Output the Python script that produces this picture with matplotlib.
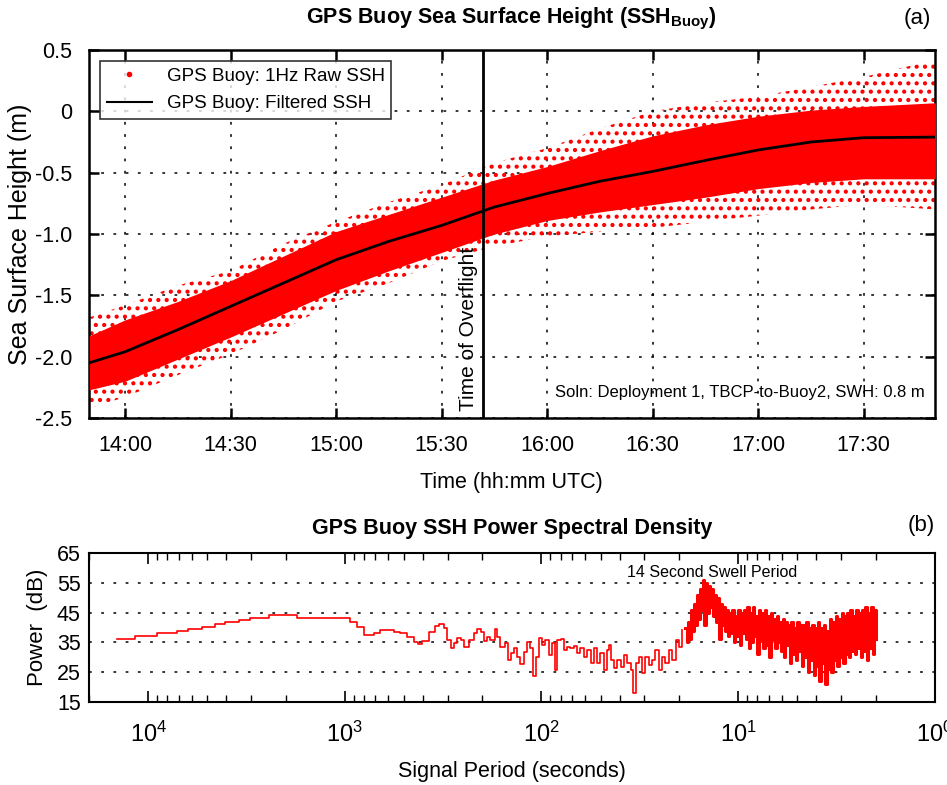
import numpy as np
import matplotlib
matplotlib.use("Agg")
import matplotlib.pyplot as plt
from matplotlib.lines import Line2D
from matplotlib.ticker import LogLocator, NullFormatter

plt.rcParams['font.family'] = ['Liberation Sans', 'DejaVu Sans']
plt.rcParams['mathtext.fontset'] = 'custom'
plt.rcParams['mathtext.rm'] = 'Liberation Sans'
plt.rcParams['mathtext.bf'] = 'Liberation Sans:bold'
plt.rcParams['hatch.linewidth'] = 1.8

# ---- panel (a): sea surface height, time in decimal hours UTC ----
t_hours = [13.83, 14.0, 14.25, 14.5, 14.75, 15.0, 15.25, 15.5, 15.75,
           16.0, 16.25, 16.5, 16.75, 17.0, 17.25, 17.5, 17.84]
ssh_filtered = [-2.05, -1.96, -1.78, -1.59, -1.40, -1.21, -1.06, -0.93, -0.78,
                -0.67, -0.57, -0.49, -0.40, -0.315, -0.25, -0.215, -0.21]
# dense core of the 1 Hz raw points
raw_core_lo = [-2.27, -2.20, -2.02, -1.84, -1.65, -1.46, -1.30, -1.15, -1.00,
               -0.89, -0.82, -0.76, -0.70, -0.63, -0.58, -0.55, -0.55]
raw_core_hi = [-1.83, -1.70, -1.55, -1.38, -1.18, -0.98, -0.84, -0.70, -0.56,
               -0.45, -0.32, -0.20, -0.11, -0.04, 0.01, 0.04, 0.07]
# sparse outer scatter of the raw points
raw_outer_lo = [-2.42, -2.33, -2.15, -1.98, -1.78, -1.55, -1.40, -1.22, -1.10,
                -1.02, -0.98, -0.95, -0.90, -0.85, -0.80, -0.76, -0.80]
raw_outer_hi = [-1.68, -1.58, -1.42, -1.30, -1.08, -0.90, -0.74, -0.60, -0.42,
                -0.30, -0.14, 0.00, 0.07, 0.12, 0.20, 0.28, 0.42]
overflight = 15.694
time_ticks = [14.0, 14.5, 15.0, 15.5, 16.0, 16.5, 17.0, 17.5]
time_labels = ['14:00', '14:30', '15:00', '15:30', '16:00', '16:30', '17:00', '17:30']

# ---- panel (b): PSD, signal period (s) vs power (dB) ----
psd_period = [14420, 11640, 9030, 7150, 6240, 5330, 4560, 4060, 3470, 3030,
              2440, 1750, 1054, 938, 867, 802, 757, 713, 659, 611, 565, 522,
              483, 447, 426, 405, 374, 346, 330, 314, 302, 290, 279, 268, 258,
              247, 234, 221, 212, 204, 197, 189, 182, 173, 168, 162, 154, 148,
              143, 138, 133, 128, 123, 118, 114, 110, 107, 103, 99.3, 95.5,
              91.8, 88.3, 85.5, 83.2, 80.0, 76.9, 74.0, 71.2, 68.4, 65.8, 63.3,
              60.8, 58.5, 56.3, 54.1, 52.1, 50.1, 48.2, 46.3, 45.4, 44.5, 42.8,
              41.2, 39.6, 38.1, 36.6, 35.2, 34.1, 33.2, 31.9, 30.7, 29.6, 28.4,
              27.3, 26.3, 25.3, 24.3, 23.4, 22.5, 21.6, 20.8, 20.0, 19.2]
psd_db = [36.3, 37.2, 38.0, 38.9, 39.6, 40.3, 41.1, 41.8, 42.4, 43.1,
          44.1, 43.3, 43.3, 42.0, 40.3, 37.5, 37.5, 38.3, 39.2, 39.2, 38.6, 38.3,
          36.9, 35.0, 34.5, 35.6, 38.6, 40.6, 41.2, 39.7, 35.8, 33.0, 34.7, 36.4, 35.8,
          33.6, 35.8, 38.0, 39.4, 38.6, 35.6, 36.9, 35.8, 39.4, 36.9, 33.6, 34.7, 29.1,
          31.3, 33.0, 30.2, 27.8, 31.9, 35.2, 33.0, 23.7, 30.2, 36.4, 34.1, 35.8,
          30.8, 34.7, 25.7, 35.8, 36.0, 32.4, 33.6, 33.0, 33.8, 31.3, 33.0,
          30.2, 32.4, 28.0, 33.0, 28.0, 31.3, 25.7, 32.4, 34.1, 29.1, 26.3,
          29.1, 26.9, 30.8, 28.0, 25.7, 17.9, 28.0, 30.2, 24.6, 30.2, 27.4,
          29.1, 32.4, 25.7, 30.2, 28.0, 32.4, 29.1, 35.8, 33.6, 39.2]
# swell band and short periods: densely oscillating spectrum, 18.6 s down to 2 s
psd_dense_db = [40, 35, 42, 36, 46, 39, 48, 41, 51, 43,
                53, 46, 56, 41, 55, 45, 54, 47, 53, 44,
                51, 42, 50, 36, 48, 41, 47, 39, 46, 37,
                45, 38, 46, 35, 44, 37, 46, 34, 45, 38,
                46, 36, 47, 33, 45, 35, 47, 37, 44, 31,
                46, 36, 45, 33, 46, 34, 44, 30, 45, 36,
                43, 33, 44, 35, 42, 32, 43, 30, 42, 34,
                41, 28, 42, 31, 40, 29, 42, 32, 41, 27,
                41, 30, 42, 25, 40, 29, 41, 24, 40, 27,
                42, 22, 40, 28, 41, 21, 39, 26, 43, 25,
                42, 29, 44, 27, 43, 30, 45, 28, 44, 31,
                45, 30, 46, 32, 44, 31, 46, 33, 45, 30,
                46, 32, 47, 29, 45, 33, 47, 31, 46, 36]
psd_dense_period = np.geomspace(18.6, 2.0, len(psd_dense_db))

fig = plt.figure(figsize=(9.47, 7.85), dpi=100)
ax1 = fig.add_axes([0.094, 0.4675, 0.893, 0.4688])
ax2 = fig.add_axes([0.094, 0.1057, 0.893, 0.1898])

grid_style = dict(color='black', linestyle=(0, (1.8, 6.2)), linewidth=1.1)

# panel (a)
ax1.fill_between(t_hours, raw_outer_lo, raw_outer_hi, facecolor='none',
                 edgecolor='red', hatch='..', linewidth=0, zorder=2)
ax1.fill_between(t_hours, raw_core_lo, raw_core_hi, color='red', linewidth=0, zorder=3)
ax1.plot(t_hours, ssh_filtered, color='black', linewidth=2, zorder=4)
ax1.axvline(overflight, color='black', linewidth=2, zorder=5)
ax1.set_xlim(13.829, 17.8365)
ax1.set_ylim(-2.5, 0.5)
ax1.set_xticks(time_ticks)
ax1.set_xticklabels(time_labels)
ax1.set_yticks([-2.5, -2.0, -1.5, -1.0, -0.5, 0, 0.5])
ax1.set_yticklabels(['-2.5', '-2.0', '-1.5', '-1.0', '-0.5', '0', '0.5'])
ax1.grid(True, **grid_style)
ax1.set_axisbelow(True)
ax1.tick_params(direction='in', length=7, width=1.8, top=True, right=True,
                labelsize=15.5, pad=12)
for s in ax1.spines.values():
    s.set_linewidth(1.8)
ax1.set_xlabel('Time (hh:mm UTC)', fontsize=15.5, labelpad=12)
ax1.set_ylabel('Sea Surface Height (m)', fontsize=18, labelpad=2)
ax1.set_title(r'GPS Buoy Sea Surface Height (SSH$_{\mathbf{Buoy}}$)',
              fontsize=15.5, fontweight='bold', pad=19)
fig.text(0.983, 0.977, '(a)', fontsize=16, ha='right', va='center')

handles = [Line2D([], [], color='red', marker='.', linestyle='none', markersize=6),
           Line2D([], [], color='black', linewidth=1.5)]
leg = ax1.legend(handles, ['GPS Buoy: 1Hz Raw SSH', 'GPS Buoy: Filtered SSH'],
                 loc='upper left', fontsize=13.5, frameon=True, fancybox=False,
                 edgecolor='black', borderpad=0.35, labelspacing=0.55,
                 handlelength=2.4, handletextpad=0.8, borderaxespad=0.6)
leg.get_frame().set_linewidth(1.2)
leg.set_zorder(10)

ax1.annotate('Time of Overflight', xy=(overflight, -2.5), xytext=(-3, 5),
             textcoords='offset points', rotation=90, ha='right', va='bottom',
             fontsize=15)
ax1.text(0.988, 0.068, 'Soln: Deployment 1, TBCP-to-Buoy2, SWH: 0.8 m',
         transform=ax1.transAxes, ha='right', va='center', fontsize=12)

# panel (b)
ax2.plot(psd_period, psd_db, color='red', linewidth=1.2, drawstyle='steps-post')
ax2.plot(psd_dense_period, psd_dense_db, color='red', linewidth=2.2,
         drawstyle='steps-post')
ax2.set_xscale('log')
ax2.set_xlim(2.0e4, 1.0)
ax2.set_ylim(15, 65)
ax2.set_yticks([15, 25, 35, 45, 55, 65])
ax2.xaxis.set_major_locator(LogLocator(base=10, numticks=10))
ax2.xaxis.set_minor_locator(LogLocator(base=10, subs=np.arange(2, 10), numticks=20))
ax2.xaxis.set_minor_formatter(NullFormatter())
ax2.yaxis.grid(True, **grid_style)
ax2.tick_params(axis='x', which='major', direction='in', length=8, width=1.2,
                top=True, labelsize=17, pad=14)
ax2.tick_params(axis='x', which='minor', direction='in', length=5, width=1.0, top=True)
ax2.tick_params(axis='y', length=0, labelsize=15.5, pad=6)
for s in ax2.spines.values():
    s.set_linewidth(1.5)
ax2.set_xlabel('Signal Period (seconds)', fontsize=15.5, labelpad=10)
ax2.set_ylabel('Power  (dB)', fontsize=16, labelpad=6)
ax2.set_title('GPS Buoy SSH Power Spectral Density', fontsize=15.5,
              fontweight='bold', pad=14)
fig.text(0.987, 0.331, '(b)', fontsize=16, ha='right', va='center')
ax2.text(13.5, 58.6, '14 Second Swell Period', ha='center', va='center', fontsize=11.5)

fig.savefig('out.png', dpi=100)
